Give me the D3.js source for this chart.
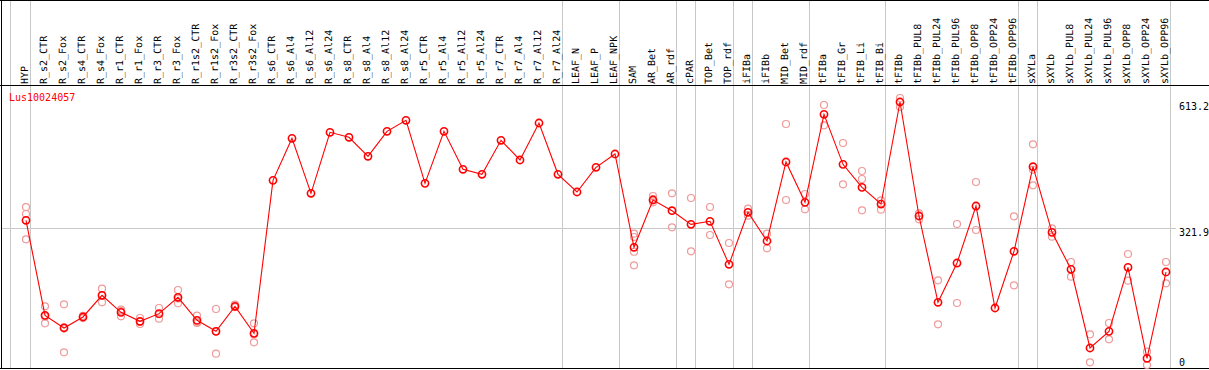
<!DOCTYPE html>
<html><head><meta charset="utf-8">
<script src="https://cdn.jsdelivr.net/npm/d3@7"></script>
<style>body{margin:0;background:#fff;}svg{display:block;}text{font-family:"DejaVu Sans Mono",monospace;font-size:10px;}</style>
</head><body><div id="chart"></div>
<script>
const categories = ["HYP","R_s2_CTR","R_s2_Fox","R_s4_CTR","R_s4_Fox","R_r1_CTR","R_r1_Fox","R_r3_CTR","R_r3_Fox","R_r1s2_CTR","R_r1s2_Fox","R_r3s2_CTR","R_r3s2_Fox","R_s6_CTR","R_s6_Al4","R_s6_Al12","R_s6_Al24","R_s8_CTR","R_s8_Al4","R_s8_Al12","R_s8_Al24","R_r5_CTR","R_r5_Al4","R_r5_Al12","R_r5_Al24","R_r7_CTR","R_r7_Al4","R_r7_Al12","R_r7_Al24","LEAF_N","LEAF_P","LEAF_NPK","SAM","AR_Bet","AR_rdf","cPAR","TOP_Bet","TOP_rdf","iFIBa","iFIBb","MID_Bet","MID_rdf","tFIBa","tFIB_Gr","tFIB_Li","tFIB_Bi","tFIBb","tFIBb_PUL8","tFIBb_PUL24","tFIBb_PUL96","tFIBb_OPP8","tFIBb_OPP24","tFIBb_OPP96","sXYLa","sXYLb","sXYLb_PUL8","sXYLb_PUL24","sXYLb_PUL96","sXYLb_OPP8","sXYLb_OPP24","sXYLb_OPP96"];
const means = [340.5,121.4,92.2,117.6,167.5,128.3,107.6,125.3,163.0,109.9,84.5,142.2,79.9,432.6,529.5,402.7,543.3,531.8,488.0,545.6,571.0,425.7,545.6,458.0,446.5,524.9,479.5,564.8,446.5,405.7,462.6,493.3,278.2,387.3,362.6,331.2,338.2,239.0,358.9,292.8,474.9,381.9,584.8,469.5,416.5,378.0,613.2,350.4,151.4,242.0,373.4,138.3,269.0,464.0,312.7,227.5,46.1,84.5,232.1,22.4,221.3];
const replicates = [[371,355,296.6],[142.2,119,103],[146.8,93.7,36.1],[120,115,118],[182.9,168.2,151.4],[134.5,131.3,119.1],[115.3,106,101.4],[138.3,123.9,113.7],[179.8,160.1,149.1],[120.6,105.4,103.7],[136,84.5,33],[146,141,140],[103,77.5,59.2],
[],[],[],[],[],[],[],[],[],[],[],[],[],[],[],[],[],[],[],
[309.6,302,268,236.7],[396.5,389.6,382],[402.7,324.3],[391.9,269],[371.1,306.6],[288.2,192.9],[367.2,351.1],[309.6,275.9],[562.5,387.3],[401.1,365.8],[606.3,559.5],[518.7,423.5],[454.1,435.7,363.5],[386.5,365],[622.4,601.7],[356.6,342.8],[202.2,100.7],[332,149.8],[428.8,318.1],[],[349.7,190.6],[515.7,457,421.2],[322,302.7],[244.4,210.5],[77.7,13.1],[103.7,66.2],[262.8,201.3],[37.6,6.9],[244.4,195.3]];
const yTicks = [0, 321.9, 613.2];
const groupEnds = ["HYP","R_r7_Al24","LEAF_NPK","AR_rdf","cPAR","TOP_rdf","iFIBa","MID_rdf","tFIB_Bi","tFIBb_OPP96","sXYLa","sXYLb_OPP96"];
const geneName = "Lus10024057";

const W = 1209, H = 370;
const svg = d3.select("#chart").append("svg").attr("width", W).attr("height", H);
svg.append("rect").attr("width", W).attr("height", H).attr("fill", "#fff");

const x = d3.scalePoint().domain(categories).range([26, 26 + 19 * (categories.length - 1)]);
const y = d3.scaleLinear().domain([0, 613.2]).range([368, 102]);

// separators
const sepX = [x(categories[0]) - 15.5].concat(groupEnds.map(c => x(c) + 4.5));
svg.selectAll("line.sep").data(sepX).enter().append("line")
  .attr("x1", d => d).attr("x2", d => d).attr("y1", 0).attr("y2", 368)
  .attr("stroke", "#c8c8c8").attr("stroke-width", 1);

// horizontal gridline at middle tick
svg.append("line").attr("x1", 1).attr("x2", 1176)
  .attr("y1", Math.round(y(yTicks[1])) + 0.5).attr("y2", Math.round(y(yTicks[1])) + 0.5)
  .attr("stroke", "#c8c8c8");

// borders
svg.append("line").attr("x1", 0).attr("x2", W).attr("y1", 0.5).attr("y2", 0.5).attr("stroke", "#000");
svg.append("line").attr("x1", 0).attr("x2", W).attr("y1", 85.5).attr("y2", 85.5).attr("stroke", "#000");
svg.append("line").attr("x1", 0).attr("x2", W).attr("y1", 368.5).attr("y2", 368.5).attr("stroke", "#000");
svg.append("line").attr("x1", 1.5).attr("x2", 1.5).attr("y1", 0).attr("y2", 369).attr("stroke", "#000");

// category labels
svg.selectAll("text.cat").data(categories).enter().append("text")
  .attr("transform", d => `translate(${x(d) + 2},84) rotate(-90)`)
  .attr("text-anchor", "start").attr("fill", "#000")
  .style("text-rendering", "geometricPrecision").text(d => d);

// right axis labels
const yAxisG = svg.append("g");
yAxisG.selectAll("text").data(yTicks).enter().append("text")
  .attr("x", 1179)
  .attr("y", d => d === 0 ? y(d) - 2.5 : y(d) + 8)
  .attr("fill", "#000").text(d => d === 0 ? "0" : d.toFixed(1));

// gene name
svg.append("text").attr("x", 9).attr("y", 100.5).attr("fill", "#ff0000").text(geneName);

// replicates
const repPts = [];
replicates.forEach((arr, i) => arr.forEach(v => repPts.push({c: categories[i], v})));
svg.selectAll("circle.rep").data(repPts).enter().append("circle")
  .attr("cx", d => x(d.c)).attr("cy", d => y(d.v)).attr("r", 3.5)
  .attr("fill", "none").attr("stroke", "#f09a9a").attr("stroke-width", 1.2);

// mean line
const line = d3.line().x((d, i) => x(categories[i])).y(d => y(d));
svg.append("path").datum(means).attr("d", line).attr("fill", "none").attr("stroke", "#ff0000").attr("stroke-width", 1.1);

// mean markers
svg.selectAll("circle.mean").data(means).enter().append("circle")
  .attr("cx", (d, i) => x(categories[i])).attr("cy", d => y(d)).attr("r", 3.6)
  .attr("fill", "none").attr("stroke", "#ff0000").attr("stroke-width", 1.6);
</script></body></html>
